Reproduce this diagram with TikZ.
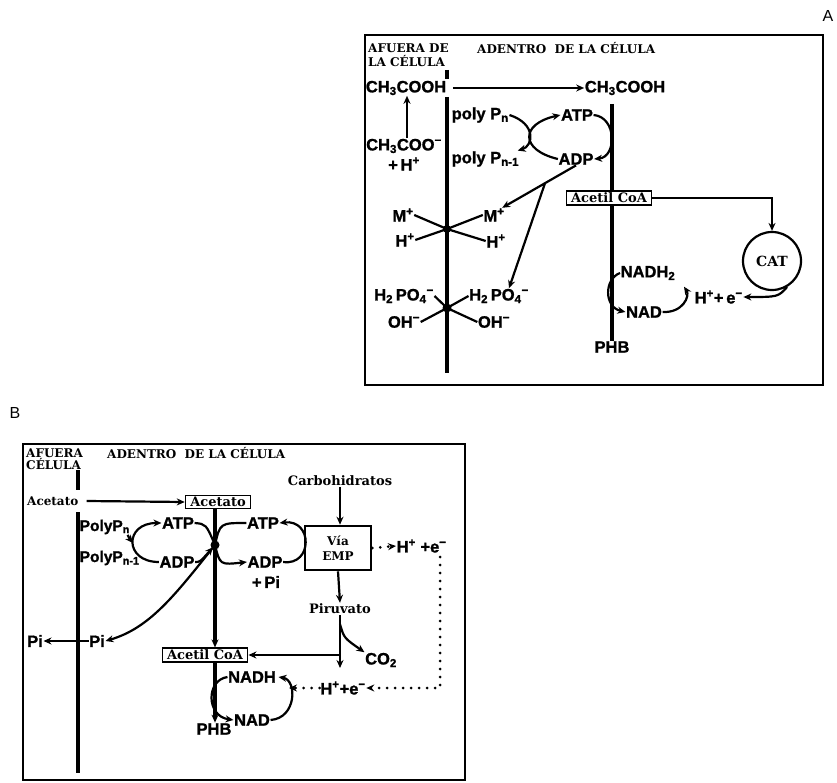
\documentclass[tikz,border=0pt]{standalone}
\usepackage{fontspec}
\setsansfont{Liberation Sans}[BoldFeatures={FakeBold=1.2}]
\newfontfamily\dvserif{DejaVu Serif}
\usetikzlibrary{arrows.meta,calc}

\begin{document}
\begin{tikzpicture}[x=1pt,y=-1pt,
  >={Stealth[length=8pt,width=7pt]},
  txt/.style={font=\sffamily\bfseries\fontsize{16.5}{18}\selectfont,inner sep=0.5pt},
  stxt/.style={font=\dvserif\bfseries\fontsize{13}{15}\selectfont,inner sep=1pt},
  hdr/.style={font=\dvserif\bfseries\fontsize{12}{12}\selectfont,inner sep=0pt,anchor=west},
  bx/.style={stxt,draw,line width=1.1pt,fill=white,inner xsep=5pt,inner ysep=2pt},
  memb/.style={line width=3.2pt},
  ln/.style={line width=2.2pt},
  arr/.style={line width=2.2pt,->},
  dts/.style={line width=3pt,line cap=round,dash pattern=on 0pt off 8pt},
  frm/.style={line width=1.6pt},
  lab/.style={font=\sffamily\fontsize{16}{16}\selectfont,inner sep=0pt},
]
\useasboundingbox (0,0) rectangle (837,783);

% A
\node[lab] (labA) at (828,16) {A};
\draw[frm] (365,35) rectangle (823,385);
\node[hdr] (outA1) at (368,48) {AFUERA DE};
\node[hdr] (outA2) at (368,61) {LA CÉLULA};
\node[hdr] (inA) at (477,48) {ADENTRO\ \ DE LA CÉLULA};
\draw[memb] (447,70) -- (447,79);
\draw[memb] (447,97) -- (447,373);
\node[txt] (acL) at (406,88) {CH\textsubscript{3}COOH};
\node[txt] (acR) at (625,88) {CH\textsubscript{3}COOH};
\draw[arr] ([xshift=6pt]acL.east) -- (acR.west);
\node[txt] (acion) at (404,146) {CH\textsubscript{3}COO\textsuperscript{−}};
\node[txt] (hpl) at (404,164) {+\,H\textsuperscript{+}};
\draw[arr] ([xshift=3pt]acion.north) -- ([xshift=1pt]acL.south);
\node[txt,anchor=west] (polyn) at (451,115) {poly P\textsubscript{n}};
\node[txt,anchor=west] (polyn1) at (451,159) {poly P\textsubscript{n-1}};
\node[txt] (atpA) at (577,115) {ATP};
\node[txt] (adpA) at (576,159) {ADP};
\draw[ln,->] (polyn.east) .. controls (537,124) and (533,146) .. ([xshift=-2pt]polyn1.north east);
\draw[ln,->] (adpA.west) .. controls (520,150) and (520,124) .. (atpA.west);
\draw[ln,->] (atpA.east) .. controls (617,117) and (617,157) .. (adpA.east);
\node[txt] (mL) at (403,215) {M\textsuperscript{+}};
\node[txt] (hL) at (405,240) {H\textsuperscript{+}};
\node[txt] (mR) at (494,215) {M\textsuperscript{+}};
\node[txt] (hR) at (496,241) {H\textsuperscript{+}};
\coordinate (xm) at (447,229);
\draw[ln] (mL.east) -- (xm) -- (hR.west);
\draw[ln] (hL.east) -- (xm) -- (mR.west);
\fill (xm) circle (4);
\node[txt] (pL) at (404,296) {H\textsubscript{2}\,PO\textsubscript{4}\textsuperscript{−}};
\node[txt] (pR) at (499,296) {H\textsubscript{2}\,PO\textsubscript{4}\textsuperscript{−}};
\node[txt] (oL) at (404,322) {OH\textsuperscript{−}};
\node[txt] (oR) at (494,322) {OH\textsuperscript{−}};
\coordinate (xp) at (447,308);
\draw[ln] (pL.east) -- (xp) -- (oR.west);
\draw[ln] (oL.east) -- (xp) -- (pR.west);
\fill (xp) circle (4.5);
\coordinate (brA) at ($(adpA.south)!0.42!([xshift=-3pt]mR.north east)$);
\draw[arr] (adpA.south) -- ([xshift=-3pt]mR.north east);
\draw[arr] (brA) -- ([xshift=10pt]pR.north);
\node[txt] (phbA) at (612,347) {PHB};
\draw[memb] (612,104) -- (phbA.north);
\node[bx] (acoa) at (609,198) {Acetil CoA};
\node[circle,draw,ln,font=\dvserif\bfseries\fontsize{14}{14}\selectfont,minimum size=58pt,inner sep=0pt] (cat) at (772,261) {CAT};
\draw[arr] (acoa.east) -| (cat.north);
\node[txt,anchor=west] (hea) at (694,297) {H\textsuperscript{+}+\,e\textsuperscript{−}};
\draw[arr] (cat.-60) .. controls (778,297) .. (hea.east);
\node[txt,anchor=west] (nadh2) at (620,273) {NADH\textsubscript{2}};
\node[txt] (nadA) at (644,312) {NAD};
\draw[ln,->] (nadh2.west) .. controls (604,279) and (604,307) .. (nadA.west);
\draw[ln,->] (nadA.east) .. controls (683,313) and (690,296) .. ([xshift=8pt,yshift=-6pt]nadh2.south east);

% B
\node[lab] (labB) at (15,413) {B};
\draw[frm] (23,444) rectangle (465,780);
\node[hdr] (outB1) at (26,453) {AFUERA};
\node[hdr] (outB2) at (26,464) {CÉLULA};
\node[hdr] (inB) at (107,453) {ADENTRO\ \ DE LA CÉLULA};
\draw[memb] (78,470) -- (78,490);
\draw[memb] (78,512) -- (78,773);
\node[stxt,anchor=west,font=\dvserif\bfseries\fontsize{12}{14}\selectfont] (acetL) at (26,501) {Acetato};
\node[bx] (acetB) at (218,502) {Acetato};
\draw[arr] ([xshift=7pt]acetL.east) -- (acetB.west);
\node[stxt] (carbo) at (340,481) {Carbohidratos};
\node[draw,line width=2.6pt,stxt,font=\dvserif\bfseries\fontsize{12}{15}\selectfont,align=center,minimum width=66pt,minimum height=44pt,inner sep=1pt] (emp) at (338,548) {Vía\\EMP};
\draw[arr] (carbo.south) -- (carbo.south |- emp.north);
\node[txt,anchor=west] (hpe1) at (396,546) {H\textsuperscript{+} +e\textsuperscript{−}};
\draw[dts,->] (emp.east) -- (hpe1.west);
\node[txt,anchor=west,font=\sffamily\bfseries\fontsize{15.5}{17}\selectfont] (polynB) at (79,527) {PolyP\textsubscript{n}};
\node[txt,anchor=west,font=\sffamily\bfseries\fontsize{15.5}{17}\selectfont] (polyn1B) at (79,558) {PolyP\textsubscript{n-1}};
\node[txt] (atp1) at (178,523) {ATP};
\node[txt] (adp1) at (177,562) {ADP};
\node[txt] (atp2) at (263,523) {ATP};
\node[txt] (adp2) at (265,562) {ADP};
\node[txt] (pi2) at (266,582) {+\,Pi};
\node[stxt] (piru) at (340,609) {Piruvato};
\node[txt] (piL) at (35,641) {Pi};
\node[txt] (piR) at (97,641) {Pi};
\node[bx] (acoaB) at (205,655) {Acetil CoA};
\node[txt] (co2) at (381,660) {CO\textsubscript{2}};
\node[txt] (nadhB) at (252,677) {NADH};
\node[txt] (hpe2) at (343,688) {H\textsuperscript{+}+e\textsuperscript{−}};
\node[txt] (nadB) at (252,720) {NAD};
\node[txt] (phbB) at (214,729) {PHB};
\coordinate (dotB) at (215,545);
\draw[memb,->] (dotB |- acetB.south) -- (dotB |- acoaB.north);
\fill (dotB) circle (4.5);
\coordinate (lmid) at (133,543);
\draw[ln,->] (adp1.west) .. controls (124,562) and (124,523) .. (atp1.west);
\draw[ln,->] ([xshift=-3pt]polynB.south east) .. controls (128,537) .. (lmid);
\draw[ln] (atp1.east) .. controls (206,524) .. (dotB);
\draw[ln,->,shorten >=3pt] (adp1.east) .. controls (200,562) .. (dotB);
\draw[ln,->] (atp2.west) .. controls (220,523) .. (dotB) .. controls (220,565) .. (adp2.west);
\draw[ln,->] (adp2.east) .. controls (313,566) and (313,519) .. (atp2.east);
\draw[arr] (dotB) .. controls (175,595) and (150,628) .. (piR.east);
\draw[arr] (piR.west) -- (piL.east);
\draw[arr] (emp.south) -- (piru.north);
\coordinate (pdn) at (340,668);
\draw[arr] (piru.south) -- (pdn);
\draw[arr] (piru.south |- acoaB.east) -- (acoaB.east);
\draw[ln,->] ([yshift=-9pt]piru.south) .. controls (344,638) .. (co2.north west);
\coordinate (dv) at (440,557);
\draw[dts,->] (dv) |- (hpe2.east);
\coordinate (arcB) at (289,688);
\draw[dts,->] (hpe2.west) -- (arcB);
\draw[ln,->] (nadB.east) .. controls (297,718) and (297,680) .. ([xshift=2pt]nadhB.east);
\draw[ln,->] (nadhB.west) .. controls (206,680) and (206,716) .. (nadB.west);
\draw[memb,->] (dotB |- acoaB.south) -- (dotB |- phbB.north);
\end{tikzpicture}
\end{document}
